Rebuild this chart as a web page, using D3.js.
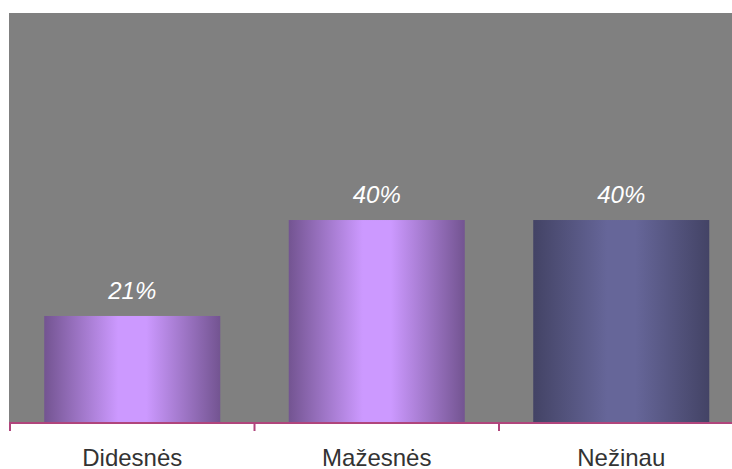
<!DOCTYPE html>
<html>
<head>
<meta charset="utf-8">
<script src="https://cdn.jsdelivr.net/npm/d3@7"></script>
<style>
  html, body { margin: 0; padding: 0; background: #ffffff; }
  svg { display: block; }
</style>
</head>
<body>
<svg id="chart" width="732" height="469"></svg>
<script>
// Survey answers and their shares (%)
const categories = ["Didesnės", "Mažesnės", "Nežinau"];
const values = [21, 40, 40];
const valueLabels = ["21%", "40%", "40%"];
const barPalettes = [
  ["#735491", "#cc99ff"],
  ["#735491", "#cc99ff"],
  ["#434365", "#666699"]
];

const svg = d3.select("#chart");
const W = 732, H = 469;
const plot = { left: 9, top: 13, bottom: 422 };
const stepWidth = 244.5;

const x = d3.scaleBand()
  .domain(categories)
  .range([10, 10 + stepWidth * categories.length])
  .paddingInner(0.28)
  .paddingOuter(0.14);

const y = d3.scaleLinear()
  .domain([0, 81])
  .range([plot.bottom, plot.top]);

// horizontal cylinder-like shading for each bar
const defs = svg.append("defs");
barPalettes.forEach((p, i) => {
  const g = defs.append("linearGradient")
    .attr("id", "barGrad" + i)
    .attr("x1", "0%").attr("x2", "100%").attr("y1", "0%").attr("y2", "0%");
  g.append("stop").attr("offset", "0%").attr("stop-color", p[0]);
  g.append("stop").attr("offset", "42%").attr("stop-color", p[1]);
  g.append("stop").attr("offset", "58%").attr("stop-color", p[1]);
  g.append("stop").attr("offset", "100%").attr("stop-color", p[0]);
});

// plot background
svg.append("rect")
  .attr("x", plot.left).attr("y", plot.top)
  .attr("width", W - plot.left).attr("height", plot.bottom - plot.top + 1)
  .attr("fill", "#808080");

// bars
svg.selectAll("rect.bar")
  .data(values)
  .join("rect")
  .attr("class", "bar")
  .attr("x", (d, i) => x(categories[i]))
  .attr("width", x.bandwidth())
  .attr("y", d => y(d))
  .attr("height", d => y(0) - y(d))
  .attr("fill", (d, i) => `url(#barGrad${i})`);

// value labels
svg.selectAll("text.val")
  .data(values)
  .join("text")
  .attr("class", "val")
  .attr("x", (d, i) => x(categories[i]) + x.bandwidth() / 2)
  .attr("y", d => y(d) - 17)
  .attr("text-anchor", "middle")
  .attr("fill", "#ffffff")
  .attr("font-family", "'Liberation Sans', Arial, sans-serif")
  .attr("font-style", "italic")
  .attr("font-size", 24)
  .text((d, i) => valueLabels[i]);

// category axis
const axisY = plot.bottom + 1;
const axisG = svg.append("g");
axisG.append("line")
  .attr("x1", plot.left).attr("x2", W)
  .attr("y1", axisY).attr("y2", axisY)
  .attr("stroke", "#b0457c").attr("stroke-width", 2);

const tickXs = d3.range(categories.length + 1).map(i => x.range()[0] + i * x.step());
axisG.selectAll("line.tick")
  .data(tickXs)
  .join("line")
  .attr("class", "tick")
  .attr("x1", d => d).attr("x2", d => d)
  .attr("y1", axisY).attr("y2", axisY + 8)
  .attr("stroke", "#b0457c").attr("stroke-width", 2);

axisG.selectAll("text.cat")
  .data(categories)
  .join("text")
  .attr("class", "cat")
  .attr("x", d => x(d) + x.bandwidth() / 2)
  .attr("y", 466)
  .attr("text-anchor", "middle")
  .attr("fill", "#333333")
  .attr("font-family", "'Liberation Sans', Arial, sans-serif")
  .attr("font-size", 24)
  .text(d => d);
</script>
</body>
</html>
